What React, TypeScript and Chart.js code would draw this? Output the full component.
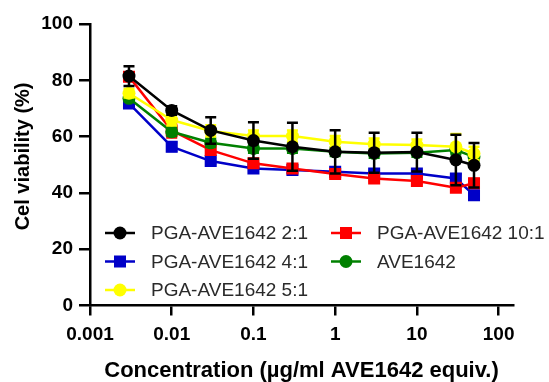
import React, { useEffect, useRef } from 'react';
import { Chart, registerables } from 'chart.js';

Chart.register(...registerables);

// ---- data ----
const concentrations = [0.003, 0.01, 0.03, 0.1, 0.3, 1, 3, 10, 30, 50];
const xTickValues = [0.001, 0.01, 0.1, 1, 10, 100];
const xTickLabels = ['0.001', '0.01', '0.1', '1', '10', '100'];
const yTickValues = [0, 20, 40, 60, 80, 100];

const seriesNames = ['PGA-AVE1642 2:1', 'PGA-AVE1642 10:1', 'PGA-AVE1642 4:1', 'AVE1642', 'PGA-AVE1642 5:1'];

const viability2to1 = [81.5, 69.3, 62.2, 58.6, 56.4, 54.6, 54.3, 54.5, 51.7, 49.8];
const error2to1 = [3.5, 1.5, 4.7, 6.5, 8.5, 7.7, 7.1, 6.9, 9.0, 7.9];
const viability10to1 = [81.3, 62.2, 55.2, 50.5, 48.7, 46.7, 45.1, 44.2, 41.8, 43.4];
const error10to1 = [1.5, 2.5, 1.5, 1.5, 1.5, 1.0, 1.0, 1.0, 1.0, 1.5];
const viability4to1 = [71.8, 56.4, 51.3, 48.7, 48.1, 47.5, 46.9, 46.9, 45.1, 39.2];
const error4to1 = [1.0, 1.5, 1.0, 1.0, 1.0, 1.0, 1.0, 1.0, 1.5, 1.5];
const viabilityAVE = [73.6, 61.7, 57.8, 55.8, 55.8, 54.6, 54.0, 54.3, 55.2, 52.8];
const errorAVE = [1.0, 1.5, 1.5, 1.5, 1.5, 1.5, 1.5, 1.5, 1.5, 1.5];
const viability5to1 = [75.4, 65.9, 62.0, 60.2, 60.2, 58.2, 57.3, 57.0, 56.4, 54.0];
const error5to1 = [1.5, 2.0, 2.0, 2.0, 2.0, 2.0, 2.0, 2.0, 4.5, 2.4];

const FONT = "'Liberation Sans', Arial, Helvetica, sans-serif";

const errorBarPlugin = {
  id: 'errorBars',
  beforeDatasetDraw(chart: any, args: any) {
    const ds = chart.data.datasets[args.index];
    const errs: number[] = ds.errors || [];
    const meta = args.meta;
    const yScale = chart.scales.y;
    const ctx = chart.ctx;
    ctx.save();
    ctx.strokeStyle = ds.borderColor;
    ctx.lineWidth = 2.5;
    meta.data.forEach((pt: any, i: number) => {
      const v = ds.data[i].y;
      const e = errs[i] || 0;
      if (!e) return;
      const yTop = yScale.getPixelForValue(v + e);
      const yBot = yScale.getPixelForValue(v - e);
      const x = pt.x;
      ctx.beginPath();
      ctx.moveTo(x, yTop);
      ctx.lineTo(x, yBot);
      ctx.moveTo(x - 5.5, yTop);
      ctx.lineTo(x + 5.5, yTop);
      ctx.moveTo(x - 5.5, yBot);
      ctx.lineTo(x + 5.5, yBot);
      ctx.stroke();
    });
    ctx.restore();
  },
};

const customLegendPlugin = {
  id: 'customLegend',
  afterDraw(chart: any) {
    const ctx = chart.ctx;
    const area = chart.chartArea;
    const colX = [area.left + 15, area.left + 241];
    ctx.save();
    chart.data.datasets.forEach((ds: any, i: number) => {
      const col = i % 2;
      const row = Math.floor(i / 2);
      const x0 = colX[col];
      const y = area.top + 209 + row * 28.5;
      ctx.strokeStyle = ds.borderColor;
      ctx.lineWidth = 2.5;
      ctx.beginPath();
      ctx.moveTo(x0, y);
      ctx.lineTo(x0 + 30, y);
      ctx.stroke();
      ctx.fillStyle = ds.backgroundColor;
      const cx = x0 + 15;
      if (ds.pointStyle === 'rect') {
        ctx.fillRect(cx - 6, y - 6, 12, 12);
      } else {
        ctx.beginPath();
        ctx.arc(cx, y, 6.5, 0, Math.PI * 2);
        ctx.fill();
      }
      ctx.fillStyle = '#2a2a2a';
      ctx.font = `19px ${FONT}`;
      ctx.textBaseline = 'middle';
      ctx.textAlign = 'left';
      ctx.fillText(ds.label, x0 + 46, y + 1);
    });
    ctx.restore();
  },
};

function makeDataset(label: string, values: number[], errors: number[], color: string, style: string, order: number) {
  return {
    label,
    data: concentrations.map((c, i) => ({ x: c, y: values[i] })),
    errors,
    borderColor: color,
    backgroundColor: color,
    pointStyle: style,
    pointRadius: style === 'rect' ? 8.5 : 6.5,
    pointHoverRadius: style === 'rect' ? 8.5 : 6.5,
    pointBorderWidth: 0,
    borderWidth: 2.5,
    tension: 0,
    order,
  };
}

export default function App() {
  const canvasRef = useRef<HTMLCanvasElement | null>(null);

  useEffect(() => {
    document.body.style.margin = '0';
    const canvas = canvasRef.current;
    if (!canvas) return;
    Chart.defaults.font.family = FONT;
    const tickFont = { size: 19, weight: 'bold' as const, family: FONT };
    const chart = new Chart(canvas, {
      type: 'line',
      data: {
        datasets: [
          makeDataset(seriesNames[0], viability2to1, error2to1, '#000000', 'circle', 0),
          makeDataset(seriesNames[1], viability10to1, error10to1, '#ff0000', 'rect', 3),
          makeDataset(seriesNames[2], viability4to1, error4to1, '#0000c8', 'rect', 4),
          makeDataset(seriesNames[3], viabilityAVE, errorAVE, '#008000', 'circle', 2),
          makeDataset(seriesNames[4], viability5to1, error5to1, '#ffff00', 'circle', 1),
        ] as any,
      },
      options: {
        animation: false,
        responsive: true,
        maintainAspectRatio: false,
        layout: { padding: { top: 24, right: 36, left: 0, bottom: 0 } },
        plugins: { legend: { display: false }, tooltip: { enabled: false } },
        scales: {
          x: {
            type: 'logarithmic',
            min: 0.001,
            max: 150,
            afterBuildTicks: (s: any) => {
              s.ticks = xTickValues.map((v) => ({ value: v }));
            },
            afterFit: (s: any) => {
              s.height = 76.5;
            },
            ticks: {
              callback: (v: any) => {
                const idx = xTickValues.indexOf(Number(v));
                return idx >= 0 ? xTickLabels[idx] : '';
              },
              font: tickFont,
              color: '#000',
              padding: 8,
              maxRotation: 0,
              autoSkip: false,
            },
            grid: { drawOnChartArea: false, drawTicks: true, tickLength: 10, color: '#000', lineWidth: 2.5 },
            border: { display: true, color: '#000', width: 2.5 },
            title: {
              display: true,
              text: 'Concentration (µg/ml AVE1642 equiv.)',
              font: { size: 22, weight: 'bold', family: FONT, lineHeight: 1 },
              color: '#000',
              padding: { top: 0, bottom: 0 },
            },
          },
          y: {
            type: 'linear',
            min: 0,
            max: 100,
            afterBuildTicks: (s: any) => {
              s.ticks = yTickValues.map((v) => ({ value: v }));
            },
            afterFit: (s: any) => {
              s.width = 90;
            },
            ticks: { font: tickFont, color: '#000', padding: 6 },
            grid: { drawOnChartArea: false, drawTicks: true, tickLength: 11, color: '#000', lineWidth: 2.5 },
            border: { display: true, color: '#000', width: 2.5 },
            title: {
              display: true,
              text: '   Cel viability (%)',
              font: { size: 20, weight: 'bold', family: FONT, lineHeight: 1 },
              color: '#000',
              padding: { top: 13, bottom: 0 },
            },
          },
        },
      } as any,
      plugins: [errorBarPlugin, customLegendPlugin],
    });
    return () => chart.destroy();
  }, []);

  return (
    <div style={{ width: 549, height: 382, position: 'relative' }}>
      <canvas ref={canvasRef} />
    </div>
  );
}
